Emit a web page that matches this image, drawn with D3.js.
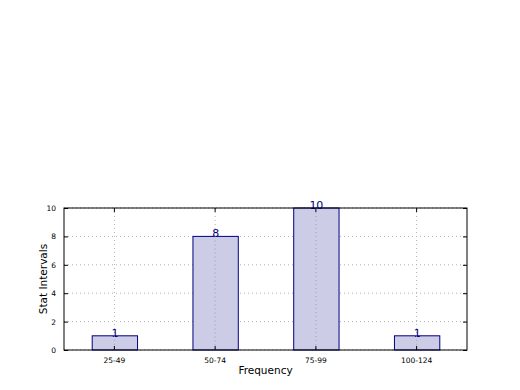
<!DOCTYPE html>
<html lang="en">
<head>
<meta charset="UTF-8">
<title>Stat Intervals</title>
<script src="https://d3js.org/d3.v7.min.js"></script>
<style>
    body { margin: 0; background: #fff; }
    text { font-family: "DejaVu Sans", sans-serif; }
</style>
</head>
<body>
<div id="chart"></div>
<script>
    // data
    const categories = ["25-49", "50-74", "75-99", "100-124"];
    const counts = [1, 8, 10, 1];
    const yTicks = [0, 2, 4, 6, 8, 10];

    const W = 520, H = 390;
    const m = { left: 64, right: 53, top: 208, bottom: 40 };
    const iw = W - m.left - m.right, ih = H - m.top - m.bottom;

    const svg = d3.select("#chart").append("svg")
        .attr("width", W).attr("height", H);
    const g = svg.append("g").attr("transform", `translate(${m.left},${m.top})`);

    const x = d3.scaleBand().domain(categories).range([0, iw]).paddingInner(0.55).paddingOuter(0.275);
    const xc = d => x(d) + x.bandwidth() / 2;
    const y = d3.scaleLinear().domain([0, 10]).range([ih, 0]);

    // grid
    g.selectAll(".hgrid").data(yTicks).enter().append("line")
        .attr("x1", 0).attr("x2", iw)
        .attr("y1", d => y(d)).attr("y2", d => y(d))
        .attr("stroke", "#b0b0b0").attr("stroke-dasharray", "1,3");
    g.selectAll(".vgrid").data(categories).enter().append("line")
        .attr("x1", xc).attr("x2", xc)
        .attr("y1", 0).attr("y2", ih)
        .attr("stroke", "#b0b0b0").attr("stroke-dasharray", "1,3");

    // bars
    g.selectAll(".bar").data(counts).enter().append("rect")
        .attr("x", (d, i) => x(categories[i]) + 0.5)
        .attr("y", d => y(d))
        .attr("width", x.bandwidth())
        .attr("height", d => ih - y(d))
        .attr("fill", "#ccccE6")
        .attr("stroke", "#000080").attr("stroke-width", 1);

    // bar labels
    g.selectAll(".lbl").data(counts).enter().append("text")
        .attr("x", (d, i) => xc(categories[i]) + 0.5)
        .attr("y", d => y(d) + 1)
        .attr("text-anchor", "middle")
        .attr("font-size", 11)
        .attr("fill", "#000080")
        .text(d => d);

    // gridlines over bars? matplotlib draws grid below by default in classic -> keep below but show through
    g.selectAll(".vgrid2").data(categories).enter().append("line")
        .attr("x1", xc).attr("x2", xc)
        .attr("y1", (d, i) => y(counts[i])).attr("y2", ih)
        .attr("stroke", "#a0a0b0").attr("stroke-dasharray", "1,3");
    g.selectAll(".hgrid2").data(yTicks.filter(t => t > 0 && t < 10)).enter().append("line")
        .each(function (t) {
            const sel = d3.select(this);
        });

    // frame
    g.append("rect").attr("x", 0).attr("y", 0).attr("width", iw).attr("height", ih)
        .attr("fill", "none").attr("stroke", "#000").attr("stroke-width", 1);

    // axes with inward ticks
    const yAxis = g.append("g").call(d3.axisLeft(y).tickValues(yTicks).tickSize(-4).tickPadding(8));
    const yAxisR = g.append("g").attr("transform", `translate(${iw},0)`)
        .call(d3.axisRight(y).tickValues(yTicks).tickSize(-4).tickFormat(""));
    const xAxis = g.append("g").attr("transform", `translate(0,${ih})`)
        .call(d3.axisBottom(x).tickSize(-4).tickPadding(8));
    const xAxisT = g.append("g")
        .call(d3.axisTop(x).tickSize(-4).tickFormat(""));
    [yAxis, yAxisR, xAxis, xAxisT].forEach(a => {
        a.select(".domain").remove();
        a.selectAll("line").attr("stroke", "#000");
        a.selectAll("text").attr("font-size", 7.5).attr("fill", "#000")
            .attr("font-family", "DejaVu Sans, sans-serif");
    });

    // axis labels
    svg.append("text")
        .attr("x", m.left + iw / 2).attr("y", 374)
        .attr("text-anchor", "middle").attr("font-size", 10.5)
        .text("Frequency");
    svg.append("text")
        .attr("transform", `translate(47,${m.top + ih / 2}) rotate(-90)`)
        .attr("text-anchor", "middle").attr("font-size", 10.5)
        .text("Stat Intervals");
</script>
</body>
</html>
